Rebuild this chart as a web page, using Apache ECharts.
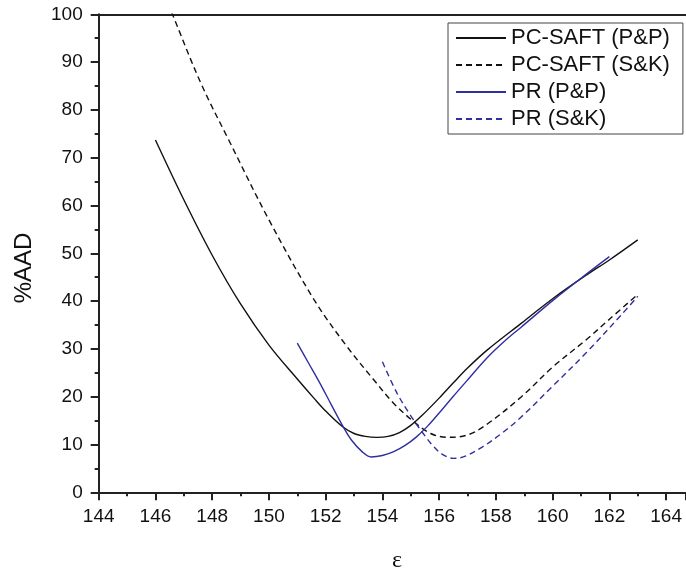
<!DOCTYPE html>
<html>
<head>
<meta charset="utf-8">
<script src="https://cdn.jsdelivr.net/npm/echarts@6/dist/echarts.min.js"></script>
<style>
html,body{margin:0;padding:0;background:#fff;}
#chart{width:686px;height:571px;}
</style>
</head>
<body>
<div id="chart"></div>
<script>
// Series data: [epsilon, %AAD]
var seriesNames = ['PC-SAFT (P&P)', 'PC-SAFT (S&K)', 'PR (P&P)', 'PR (S&K)'];
var pcsaftPP = [[146.0,73.7],[147.0,61.2],[148.0,49.6],[149.0,39.4],[150.0,30.8],[151.0,23.7],[151.6,19.6],[152.0,17.0],[152.6,13.7],[153.0,12.3],[153.4,11.7],[153.8,11.5],[154.2,11.7],[154.6,12.5],[155.0,14.0],[155.4,16.1],[156.0,19.7],[156.5,22.9],[157.0,26.0],[157.7,29.8],[158.9,35.4],[160.0,40.5],[161.2,45.5],[162.0,48.6],[163.0,52.8]];
var pcsaftSK = [[146.3,104.4],[146.6,100.0],[147.6,85.6],[148.6,73.5],[150.0,57.0],[151.6,40.2],[152.75,30.5],[153.7,23.5],[154.4,18.6],[155.1,14.8],[155.7,12.3],[156.3,11.5],[157.0,12.0],[157.7,14.3],[158.9,20.0],[160.0,26.2],[161.2,32.0],[162.0,36.2],[163.0,41.4]];
var prPP = [[151.0,31.2],[151.4,27.0],[151.8,22.8],[152.2,18.3],[152.6,13.9],[152.9,11.0],[153.3,8.4],[153.6,7.4],[154.0,7.7],[154.4,8.5],[154.8,9.8],[155.2,11.6],[155.6,13.9],[156.0,16.6],[156.5,20.1],[157.0,23.5],[157.7,28.2],[158.3,31.6],[158.9,34.6],[160.0,40.1],[161.2,45.7],[162.0,49.3]];
var prSK = [[154.0,27.3],[154.5,20.9],[155.0,16.0],[155.5,11.8],[155.8,9.6],[156.1,8.0],[156.5,7.1],[156.9,7.5],[157.5,9.4],[158.2,12.3],[158.9,15.8],[160.0,22.2],[161.2,29.3],[162.4,37.0],[163.0,41.0]];
var xMin = 144, xMax = 164.7, xStep = 2;
var yMin = 0, yMax = 100, yStep = 10;
var xTitle = 'ε', yTitle = '%AAD';

var black = '#111111', blue = '#2f2f9f';
var axisColor = '#222222';
var font = 'Liberation Sans, Arial, sans-serif';

var chart = echarts.init(document.getElementById('chart'));
function mk(name, data, color, dashed) {
  return {
    name: name, type: 'line', data: data, symbol: 'none', smooth: 0.35,
    clip: true,
    lineStyle: {color: color, width: 1.4, type: dashed ? [6, 4] : 'solid'},
    itemStyle: {color: color},
    emphasis: {disabled: true}
  };
}
chart.setOption({
  animation: false,
  backgroundColor: '#ffffff',
  grid: {left: 98.7, top: 14.3, right: 0, bottom: 78.7, containLabel: false},
  legend: {
    orient: 'vertical', left: 448, top: 23,
    data: seriesNames,
    backgroundColor: '#ffffff', borderColor: '#444444', borderWidth: 1,
    padding: [4, 13, 4, 7],
    itemWidth: 50, itemHeight: 14, itemGap: 5,
    itemStyle: {opacity: 0},
    textStyle: {fontFamily: font, fontSize: 22, lineHeight: 22, color: '#111'},
    z: 10
  },
  graphic: [
    {type: 'text', x: 24, y: 268, rotation: Math.PI / 2, z: 10,
     style: {text: yTitle, fontFamily: font, fontSize: 24, fill: '#111', align: 'center', verticalAlign: 'middle'}},
    {type: 'text', x: 397, y: 561, z: 10,
     style: {text: xTitle, fontFamily: 'Liberation Serif, serif', fontSize: 24, fill: '#111', align: 'center', verticalAlign: 'middle'}}
  ],
  xAxis: [{
    type: 'value', min: xMin, max: xMax, interval: xStep,
    axisLine: {show: true, onZero: false, lineStyle: {color: axisColor, width: 2}},
    axisTick: {show: true, length: 8, lineStyle: {color: axisColor, width: 2}},
    minorTick: {show: true, splitNumber: 2, length: 4, lineStyle: {color: axisColor, width: 2}},
    axisLabel: {fontFamily: font, fontSize: 19, color: '#111', margin: 15, showMaxLabel: false},
    splitLine: {show: false}
  }, {
    type: 'value', position: 'top', min: xMin, max: xMax, interval: xStep,
    axisLine: {show: true, onZero: false, lineStyle: {color: axisColor, width: 2}},
    axisTick: {show: false}, axisLabel: {show: false}, splitLine: {show: false}
  }],
  yAxis: {
    type: 'value', min: yMin, max: yMax, interval: yStep,
    axisLine: {show: true, onZero: false, lineStyle: {color: axisColor, width: 2}},
    axisTick: {show: true, length: 8, lineStyle: {color: axisColor, width: 2}},
    minorTick: {show: true, splitNumber: 2, length: 4, lineStyle: {color: axisColor, width: 2}},
    axisLabel: {fontFamily: font, fontSize: 19, color: '#111', margin: 16},
    splitLine: {show: false}
  },
  series: [
    mk(seriesNames[0], pcsaftPP, black, false),
    mk(seriesNames[1], pcsaftSK, black, true),
    mk(seriesNames[2], prPP, blue, false),
    mk(seriesNames[3], prSK, blue, true)
  ]
});
</script>
</body>
</html>
